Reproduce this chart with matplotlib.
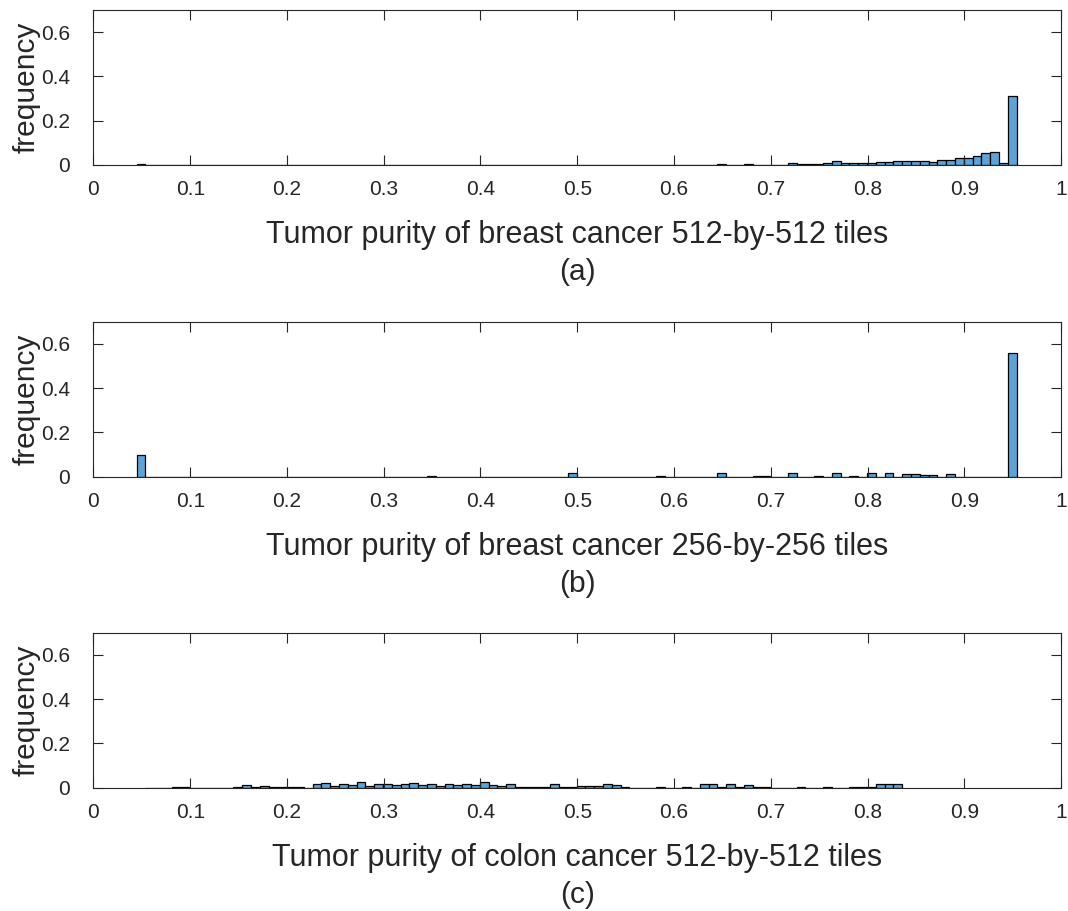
import matplotlib
matplotlib.use("Agg")
import matplotlib.pyplot as plt
import numpy as np

# 100 histogram bins spanning the purity range
bin_lo = 0.0445
bin_hi = 0.954
n_bins = 100

# frequency per bin (bin index 0..99)
breast_512 = [
    0.003, 0, 0, 0, 0, 0, 0, 0, 0, 0,
    0, 0, 0, 0, 0, 0, 0, 0, 0, 0,
    0, 0, 0, 0, 0, 0, 0, 0, 0, 0,
    0, 0, 0, 0, 0, 0, 0, 0, 0, 0,
    0, 0, 0, 0, 0, 0, 0, 0, 0, 0.002,
    0, 0, 0, 0, 0, 0, 0, 0, 0, 0,
    0, 0, 0.001, 0.001, 0, 0, 0.003, 0, 0, 0.003,
    0, 0.001, 0, 0, 0.0105, 0.003, 0.006, 0.006, 0.0105, 0.0165,
    0.0105, 0.009, 0.0105, 0.0105, 0.012, 0.012, 0.0165, 0.0165, 0.0165, 0.0195,
    0.015, 0.024, 0.024, 0.0315, 0.033, 0.0405, 0.0525, 0.0585, 0.0075, 0.31,
]

breast_256 = [
    0.098, 0, 0, 0, 0, 0, 0, 0, 0, 0,
    0, 0, 0, 0, 0, 0, 0, 0, 0, 0,
    0, 0, 0, 0, 0, 0, 0, 0, 0, 0,
    0, 0, 0, 0.002, 0, 0, 0, 0, 0, 0,
    0, 0, 0, 0, 0, 0, 0, 0, 0, 0.015,
    0, 0, 0, 0, 0, 0, 0, 0, 0, 0.003,
    0, 0, 0, 0, 0, 0, 0.015, 0, 0, 0,
    0.002, 0.002, 0, 0, 0.015, 0, 0, 0.002, 0, 0.015,
    0, 0.002, 0, 0.015, 0, 0.015, 0, 0.012, 0.012, 0.01,
    0.008, 0, 0.012, 0, 0, 0, 0, 0, 0, 0.56,
]

# colon tiles only fill bins 1..86
colon_512 = [
    None, 0.001, 0.001, 0.001, 0.002, 0.002, 0.001, 0, 0.001, 0.001,
    0.001, 0.004, 0.014, 0.004, 0.01, 0.002, 0.003, 0.003, 0.002, 0,
    0.018, 0.02, 0.01, 0.018, 0.012, 0.025, 0.01, 0.015, 0.016, 0.012,
    0.018, 0.02, 0.012, 0.015, 0.01, 0.016, 0.012, 0.018, 0.012, 0.027,
    0.012, 0.01, 0.018, 0.002, 0.002, 0.002, 0.002, 0.015, 0.003, 0.003,
    0.008, 0.008, 0.008, 0.018, 0.012, 0.002, 0.001, 0.001, 0.001, 0.003,
    0.001, 0.001, 0.003, 0.001, 0.018, 0.018, 0.002, 0.015, 0.002, 0.012,
    0.005, 0.002, 0.001, 0.001, 0.001, 0.003, 0.001, 0.001, 0.003, 0.001,
    0.001, 0.004, 0.002, 0.003, 0.018, 0.015, 0.018, None, None, None,
    None, None, None, None, None, None, None, None, None, None,
]

x_labels = [
    "Tumor purity of breast cancer 512-by-512 tiles",
    "Tumor purity of breast cancer 256-by-256 tiles",
    "Tumor purity of colon cancer 512-by-512 tiles",
]
captions = ["(a)", "(b)", "(c)"]
x_ticks = [0, 0.1, 0.2, 0.3, 0.4, 0.5, 0.6, 0.7, 0.8, 0.9, 1]
y_ticks = [0, 0.2, 0.4, 0.6]

FACE = (0.36, 0.64, 0.84)
AXIS = "#262626"

plt.rcParams["font.family"] = ["Liberation Sans", "DejaVu Sans"]

edges = np.linspace(bin_lo, bin_hi, n_bins + 1)
widths = np.diff(edges)

fig = plt.figure(figsize=(10.68, 9.11), dpi=100)
bottoms = [0.8189, 0.4767, 0.1353]

for series, label, cap, bottom in zip(
    [breast_512, breast_256, colon_512], x_labels, captions, bottoms
):
    ax = fig.add_axes([0.0875, bottom, 0.906, 0.170])
    idx = [i for i, v in enumerate(series) if v is not None]
    ax.bar(
        edges[idx],
        [series[i] for i in idx],
        width=widths[idx],
        align="edge",
        color=FACE,
        edgecolor="black",
        linewidth=0.9,
    )
    ax.set_xlim(0, 1)
    ax.set_ylim(0, 0.7)
    ax.set_xticks(x_ticks)
    ax.set_xticklabels([f"{t:g}" for t in x_ticks])
    ax.set_yticks(y_ticks)
    ax.set_yticklabels([f"{t:g}" for t in y_ticks])
    ax.tick_params(direction="in", length=7, width=0.8, colors=AXIS,
                   labelsize=15, top=True, right=True)
    ax.tick_params(axis="x", pad=11)
    ax.tick_params(axis="y", pad=17)
    for s in ax.spines.values():
        s.set_color(AXIS)
        s.set_linewidth(0.8)
    ax.set_xlabel(label, fontsize=22, color=AXIS, labelpad=15)
    ax.set_ylabel("frequency", fontsize=21.5, color=AXIS, labelpad=0)
    pos = ax.get_position()
    fig.text(pos.x0 + pos.width / 2, pos.y0 - 0.118, cap, ha="center",
             va="center", fontsize=21.5, color=AXIS)

fig.savefig("out.png", dpi=100)
